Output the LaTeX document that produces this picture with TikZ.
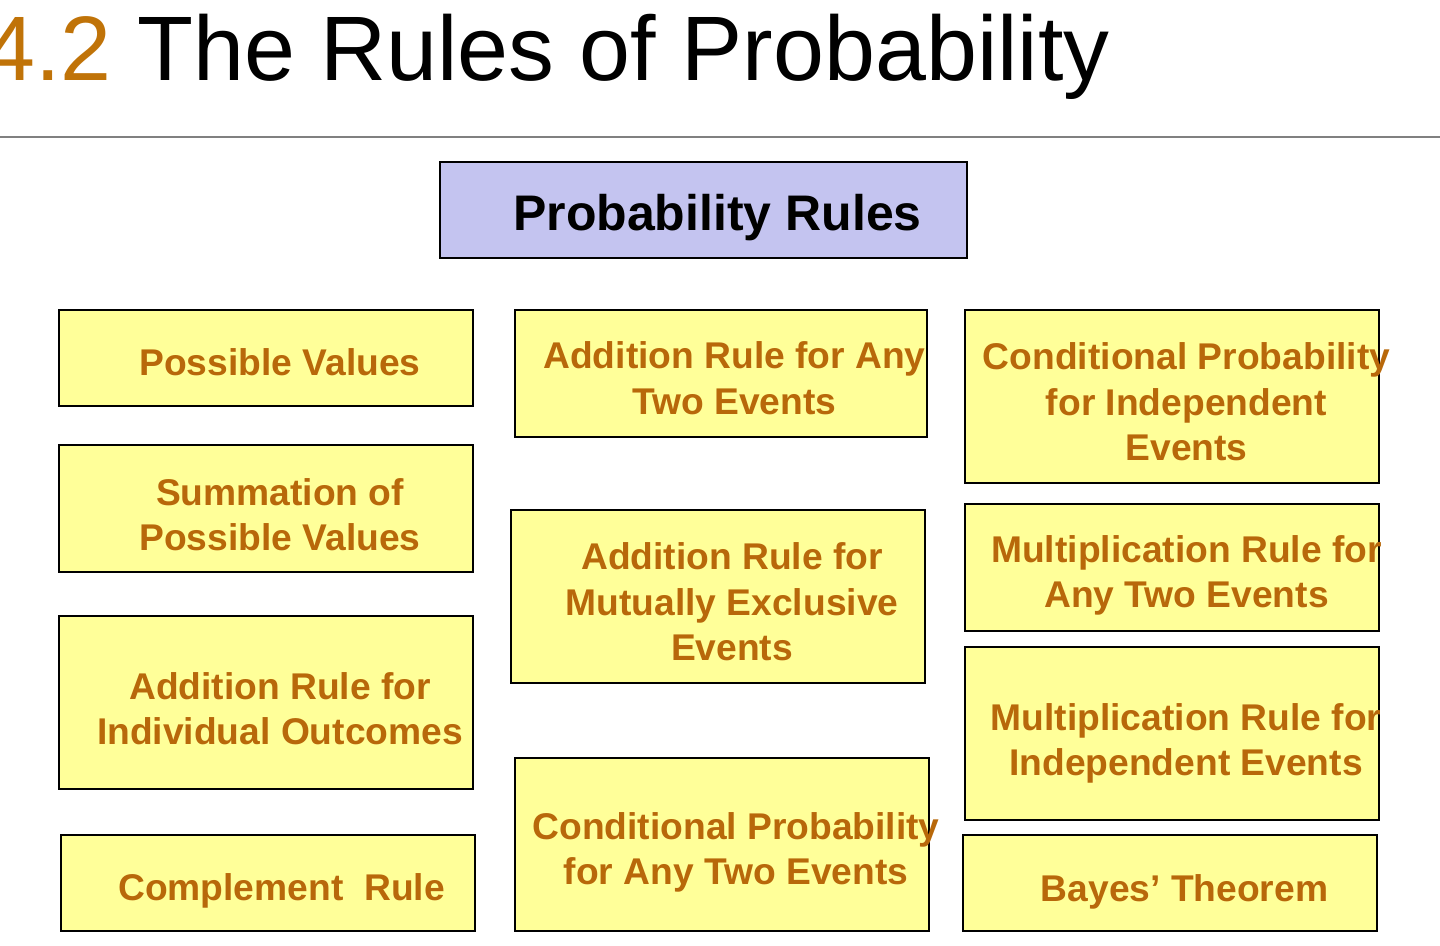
\documentclass[tikz,border=0pt]{standalone}
\usepackage{fontspec}
\setmainfont{Liberation Sans}
\usetikzlibrary{fit}
\definecolor{ruleyellow}{HTML}{FFFF99}
\definecolor{ruleblue}{HTML}{C4C4F0}
\definecolor{ruleorange}{HTML}{B8680A}
\definecolor{numorange}{HTML}{C07308}
\tikzset{
  rulebox/.style={draw, line width=1pt, fill=ruleyellow, inner sep=0pt},
  ruletext/.style={text=ruleorange, font=\bfseries\fontsize{18.6}{22.75}\selectfont, align=center, inner sep=0pt},
}
\begin{document}
\begin{tikzpicture}[x=0.5pt, y=-0.5pt]
  \useasboundingbox (0,0) rectangle (1440,946);

  % title and rule
  \node[anchor=base west, inner sep=0pt, font=\fontsize{45.8}{50}\selectfont] (title) at (-16,81)
    {\textcolor{numorange}{4.2} The Rules of Probability};
  \coordinate (lineL) at (0,137);
  \coordinate (lineR) at (1440,137);
  \draw[gray, line width=1pt] (lineL) -- (lineR);

  % header
  \node[rulebox, fill=ruleblue, fit={(440,162) (967,258)}] (head) {};
  \node[inner sep=0pt, font=\bfseries\fontsize{25}{30}\selectfont] (headtext) at (717.5,218) {Probability Rules};

  % left column
  \node[rulebox, fit={(59,310) (473,406)}] (pv) {};
  \node[ruletext] (pvtext) at (280,362.5) {Possible Values};
  \node[rulebox, fit={(59,445) (473,572)}] (sum) {};
  \node[ruletext] (sumtext) at (280,514.5) {Summation of\\Possible Values};
  \node[rulebox, fit={(59,616) (473,789)}] (addind) {};
  \node[ruletext] (addindtext) at (280,708.5) {Addition Rule for\\Individual Outcomes};
  \node[rulebox, fit={(61,835) (475,931)}] (comp) {};
  \node[ruletext] (comptext) at (281.5,890.5) {Complement\ \ Rule};

  % middle column
  \node[rulebox, fit={(515,310) (927,437)}] (addany) {};
  \node[ruletext] (addanytext) at (734.5,378) {Addition Rule for Any\\Two Events};
  \node[rulebox, fit={(511,510) (925,683)}] (addmut) {};
  \node[ruletext] (addmuttext) at (732,602) {Addition Rule for\\Mutually Exclusive\\Events};
  \node[rulebox, fit={(515,758) (929,931)}] (condany) {};
  \node[ruletext] (condanytext) at (736,852.5) {Conditional Probability\\for Any Two Events};

  % right column
  \node[rulebox, fit={(965,310) (1379,483)}] (condind) {};
  \node[ruletext] (condindtext) at (1186.5,402) {Conditional Probability\\for Independent\\Events};
  \node[rulebox, fit={(965,504) (1379,631)}] (multany) {};
  \node[ruletext] (multanytext) at (1186.5,575.5) {Multiplication Rule for\\Any Two Events};
  \node[rulebox, fit={(965,647) (1379,820)}] (multind) {};
  \node[ruletext] (multindtext) at (1186,743.5) {Multiplication Rule for\\Independent Events};
  \node[rulebox, fit={(963,835) (1377,931)}] (bayes) {};
  \node[ruletext] (bayestext) at (1184.5,891.5) {Bayes’ Theorem};
\end{tikzpicture}
\end{document}
